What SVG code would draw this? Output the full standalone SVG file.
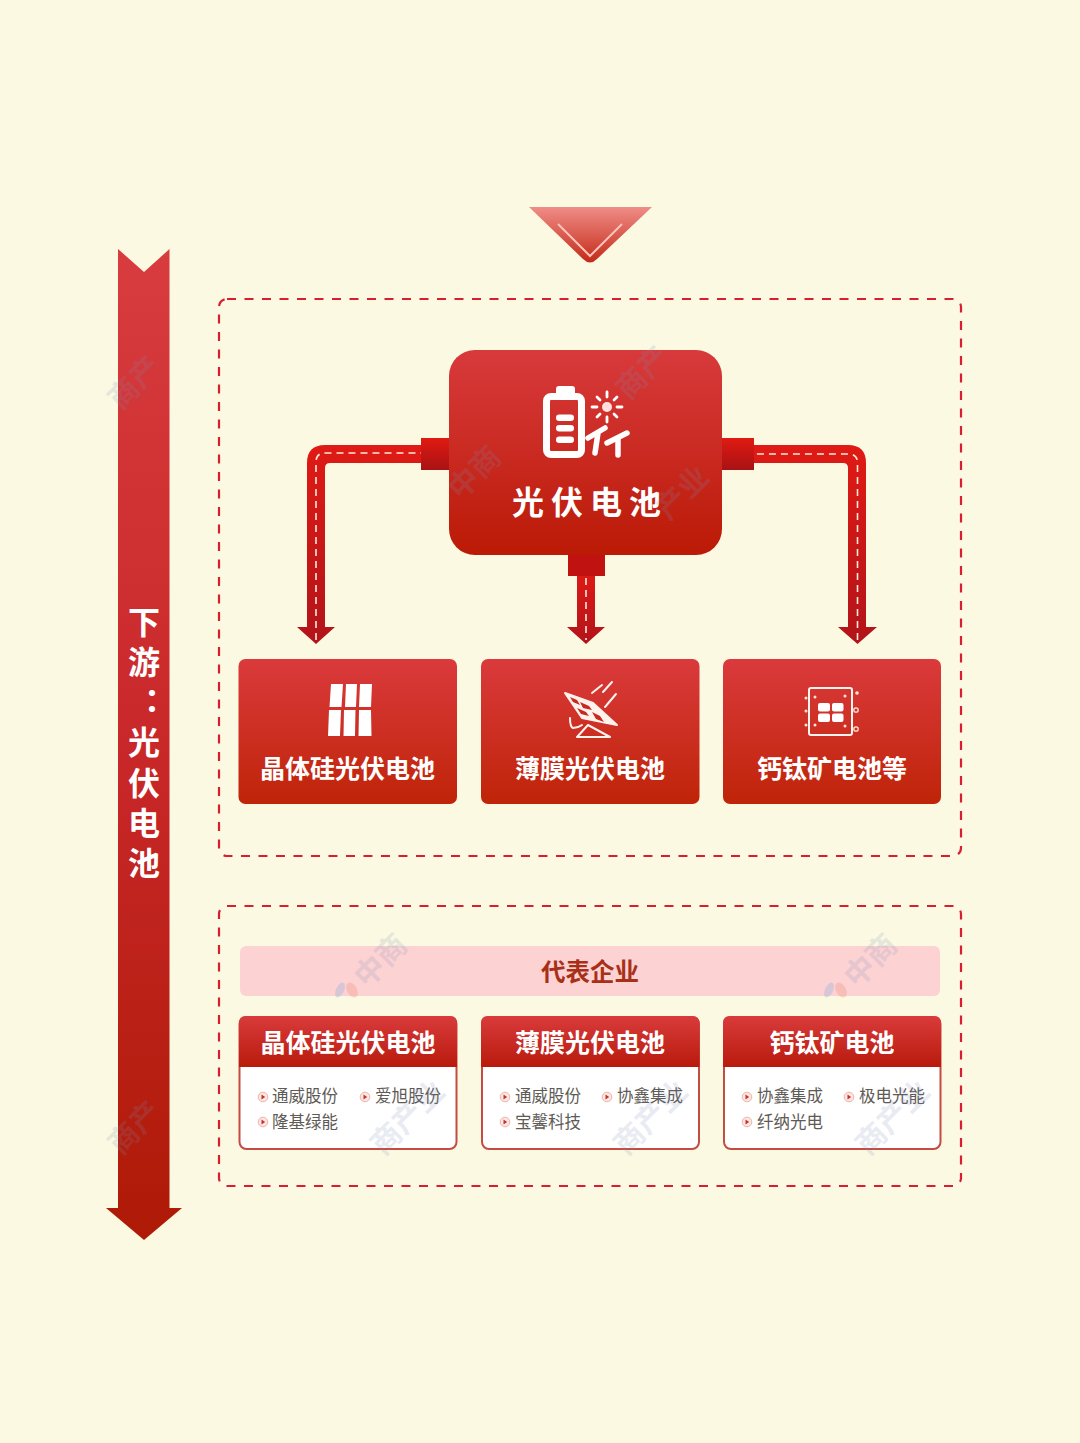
<svg xmlns="http://www.w3.org/2000/svg" width="1080" height="1443" viewBox="0 0 1080 1443">
<style>
text{font-family:"Noto Sans CJK SC","Noto Sans",sans-serif;text-anchor:middle}
.t{fill:#fff;font-weight:700;font-size:25px}
.c{fill:#5e5a55;font-size:16.5px;text-anchor:start}
.dash{fill:none;stroke:#d81e30;stroke-width:2.2;stroke-dasharray:9 8.5}
.wd{fill:none;stroke:#fbe9dc;stroke-width:1.6;stroke-dasharray:7 5}
.ic{fill:none;stroke:#fff3ee;stroke-width:2;stroke-linejoin:round;stroke-linecap:round}
.card{fill:#fff;stroke:#c44c42;stroke-width:2}
.wm{fill:#7f8db8;opacity:.17;font-size:30px;font-weight:700}
.lg{opacity:.4}
</style>
<defs>
<linearGradient id="gBar" x1="0" y1="0" x2="0" y2="1"><stop offset="0" stop-color="#d83c3e"/><stop offset=".5" stop-color="#c9282a"/><stop offset="1" stop-color="#ae1a06"/></linearGradient>
<linearGradient id="gBox" x1="0" y1="0" x2="0" y2="1"><stop offset="0" stop-color="#d83a3c"/><stop offset="1" stop-color="#bb1a06"/></linearGradient>
<linearGradient id="gTile" x1="0" y1="0" x2="0" y2="1"><stop offset="0" stop-color="#da3a3c"/><stop offset="1" stop-color="#bf2408"/></linearGradient>
<linearGradient id="gHead" x1="0" y1="0" x2="0" y2="1"><stop offset="0" stop-color="#d93b3c"/><stop offset="1" stop-color="#b91a0c"/></linearGradient>
<linearGradient id="gTri" x1="0" y1="0" x2="0" y2="1"><stop offset="0" stop-color="#ef8d87"/><stop offset="1" stop-color="#c42a18"/></linearGradient>
<linearGradient id="gStub" x1="0" y1="0" x2="0" y2="1"><stop offset="0" stop-color="#e01a12"/><stop offset="1" stop-color="#a81214"/></linearGradient>
<linearGradient id="gPipe" x1="0" y1="0" x2="0" y2="1"><stop offset="0" stop-color="#e01a14"/><stop offset="1" stop-color="#b2141a"/></linearGradient>
<g id="bul"><circle r="4.800" fill="#fbe6e2" stroke="#eeb4ac" stroke-width="1"/><path d="M-1.500-2.400 2.200 0-1.500 2.400Z" fill="#c4332a"/></g>
</defs>
<rect width="1080" height="1443" fill="#fbf9e2"/>

<g id="side-arrow">
<path d="M118 249 144 272 169.500 249V1208H182L144 1240 106 1208H118Z" fill="url(#gBar)"/>
<text x="144 144 160 144 144 144 144" y="634 674 711 754 795 835 875" font-size="32" font-weight="700" fill="#fff">下游：光伏电池</text>
</g>

<g id="top-chevron">
<path d="M529 207H652L597 259Q590 266 583 259Z" fill="url(#gTri)"/>
<path d="M558 224 590 256 622 224" fill="none" stroke="#f6c4bb" stroke-width="2"/>
</g>

<g id="frames">
<rect class="dash" x="219" y="299" width="742" height="557" rx="8"/>
<rect class="dash" x="219" y="906" width="742" height="280" rx="8"/>
</g>

<g id="connectors">
<path d="M307 627V463Q307 445 325 445H425V463H330Q325 463 325 468V627H335L316 644 297 627Z" fill="url(#gPipe)"/>
<path d="M848 627V468Q848 463 843 463H750V445H848Q866 445 866 463V627H877L857.500 644 838 627Z" fill="url(#gPipe)"/>
<path d="M577 570H595V627H605L586 644 567 627H577Z" fill="url(#gPipe)"/>
<path class="wd" d="M316 640V462Q316 453 325 453H422"/>
<path class="wd" d="M857.500 640V463Q857.500 454 848 454H752"/>
<path class="wd" d="M586 578V640"/>
<rect x="421" y="438" width="30" height="32" fill="url(#gStub)"/>
<rect x="720" y="438" width="34" height="32" fill="url(#gStub)"/>
<rect x="568" y="553" width="37" height="23" fill="#c01210"/>
</g>

<g id="node-main">
<rect x="449" y="350" width="273" height="205" rx="26" fill="url(#gBox)"/>
<rect x="556" y="386" width="19" height="10" rx="3" fill="#fff"/>
<rect x="546.500" y="396.500" width="35" height="58" rx="4.500" fill="none" stroke="#fff" stroke-width="7"/>
<g fill="#fff"><rect x="556" y="414.500" width="18" height="6.500" rx="3.200"/><rect x="556" y="425" width="18" height="6.500" rx="3.200"/><rect x="556" y="436.500" width="18" height="6.500" rx="3.200"/></g>
<g fill="none" stroke="#fff" stroke-width="5.500" stroke-linecap="round" stroke-linejoin="round">
<path d="M588 438 605 428M598 433 595 453M607 443 627 433M618 439 618 455"/>
</g>
<circle cx="607" cy="407" r="5" fill="#ffe0dc"/>
<path d="M607 392V397M607 417V422M592 407H597M617 407H622M597 397 600 400M614 414 617 417M617 397 614 400M600 414 597 417" stroke="#fff" stroke-width="2.800" stroke-linecap="round"/>
<text class="t" x="590" y="514" letter-spacing="7" style="font-size:32px">光伏电池</text>
</g>

<g id="node-crystal">
<rect x="238.500" y="659" width="218.500" height="145" rx="7" fill="url(#gTile)"/>
<g fill="#fff">
<path d="M331 684H343L341.500 707H329.500ZM346 684H357L356 707H345ZM360 684H372L371 707H359ZM329 710H341L340 736H328ZM344 710H355.500L355 736H343.500ZM359 710H371L371.500 736H358.500Z"/>
</g>
<text class="t" x="347.500" y="778">晶体硅光伏电池</text>
</g>

<g id="node-film">
<rect x="481" y="659" width="218.500" height="145" rx="7" fill="url(#gTile)"/>
<path d="M565 693 593 703 617 725 582 718Z" fill="#fff2ec" stroke="#fff2ec" stroke-width="2" stroke-linejoin="round"/>
<path d="M570 697 577 700 580 705 573 702ZM580 702 589 706 592 710 583 708ZM577 708 586 712 589 716 581 714ZM592 712 600 716 604 722 596 719Z" fill="#c8281e"/>
<path class="ic" d="M588 725 610 737H577ZM570 718Q570 727 573 728 578 728 582 725"/>
<path class="ic" d="M592 693 602 685M603 692 612 682M605 707 616 694" stroke-width="1.300"/>
<text class="t" x="590" y="778">薄膜光伏电池</text>
</g>

<g id="node-perovskite">
<rect x="723" y="659" width="218" height="145" rx="7" fill="url(#gTile)"/>
<rect class="ic" x="809" y="688" width="43" height="47" rx="2" stroke-width="2.500"/>
<g fill="#fff"><rect x="818" y="703" width="12" height="8.500" rx="2"/><rect x="832" y="703" width="11.500" height="8.500" rx="2"/><rect x="818" y="713.500" width="12" height="8.500" rx="2"/><rect x="832" y="713.500" width="11.500" height="8.500" rx="2"/></g>
<g fill="#fde5dc"><circle cx="857" cy="693" r="1.800"/><circle cx="806" cy="698" r="1.500"/><circle cx="806" cy="711" r="1.500"/><circle cx="806" cy="725" r="1.500"/><circle cx="815" cy="697" r="1.500"/><circle cx="845" cy="696" r="1.500"/><circle cx="845" cy="726" r="1.500"/><circle cx="815" cy="725" r="1.500"/></g>
<circle cx="856" cy="710" r="2.200" fill="none" stroke="#fde5dc" stroke-width="1.300"/><circle cx="856" cy="729" r="2.200" fill="none" stroke="#fde5dc" stroke-width="1.300"/>
<text class="t" x="832" y="778">钙钛矿电池等</text>
</g>

<g id="banner">
<rect x="240" y="946" width="700" height="50" rx="6" fill="#fcd2d3"/>
<text x="590" y="981" font-size="24.500" font-weight="700" fill="#a83018">代表企业</text>
</g>

<g id="card-crystal">
<rect class="card" x="239.500" y="1017" width="217" height="132" rx="7"/>
<path d="M239 1067V1023Q239 1016 246 1016H450Q457 1016 457 1023V1067Z" fill="url(#gHead)"/>
<text class="t" x="348" y="1052">晶体硅光伏电池</text>
<use href="#bul" x="263" y="1097"/><text class="c" x="272" y="1102">通威股份</text>
<use href="#bul" x="365" y="1097"/><text class="c" x="375" y="1102">爱旭股份</text>
<use href="#bul" x="263" y="1122"/><text class="c" x="272" y="1128">隆基绿能</text>
</g>

<g id="card-film">
<rect class="card" x="482" y="1017" width="217" height="132" rx="7"/>
<path d="M481 1067V1023Q481 1016 488 1016H692Q699.500 1016 699.500 1023V1067Z" fill="url(#gHead)"/>
<text class="t" x="590" y="1052">薄膜光伏电池</text>
<use href="#bul" x="505" y="1097"/><text class="c" x="515" y="1102">通威股份</text>
<use href="#bul" x="607" y="1097"/><text class="c" x="617" y="1102">协鑫集成</text>
<use href="#bul" x="505" y="1122"/><text class="c" x="515" y="1128">宝馨科技</text>
</g>

<g id="card-perovskite">
<rect class="card" x="724" y="1017" width="216.500" height="132" rx="7"/>
<path d="M723 1067V1023Q723 1016 730 1016H934Q941 1016 941 1023V1067Z" fill="url(#gHead)"/>
<text class="t" x="832" y="1052">钙钛矿电池</text>
<use href="#bul" x="747" y="1097"/><text class="c" x="757" y="1102">协鑫集成</text>
<use href="#bul" x="849" y="1097"/><text class="c" x="859" y="1102">极电光能</text>
<use href="#bul" x="747" y="1122"/><text class="c" x="757" y="1128">纤纳光电</text>
</g>

<g id="watermarks">
<text class="wm" transform="translate(388 968) rotate(-45)">中商</text>
<text class="wm" transform="translate(878 968) rotate(-45)">中商</text>
<text class="wm" transform="translate(415 1125) rotate(-45)">商产业</text>
<text class="wm" transform="translate(658 1125) rotate(-45)">商产业</text>
<text class="wm" transform="translate(900 1125) rotate(-45)">商产业</text>
<text class="wm" transform="translate(482 480) rotate(-45)">中商</text>
<text class="wm" transform="translate(690 500) rotate(-45)">产业</text>
<text class="wm" transform="translate(650 380) rotate(-45)">商产</text>
<text class="wm" transform="translate(142 390) rotate(-45)">商产</text>
<text class="wm" transform="translate(142 1135) rotate(-45)">商产</text>
<g class="lg"><ellipse cx="340" cy="990" rx="4" ry="8" fill="#9fb6dc" transform="rotate(25 340 990)"/><ellipse cx="352" cy="990" rx="5" ry="8" fill="#f3a08e" transform="rotate(-30 352 990)"/>
<ellipse cx="829" cy="990" rx="4" ry="8" fill="#9fb6dc" transform="rotate(25 829 990)"/><ellipse cx="841" cy="990" rx="5" ry="8" fill="#f3a08e" transform="rotate(-30 841 990)"/></g>
</g>
</svg>
